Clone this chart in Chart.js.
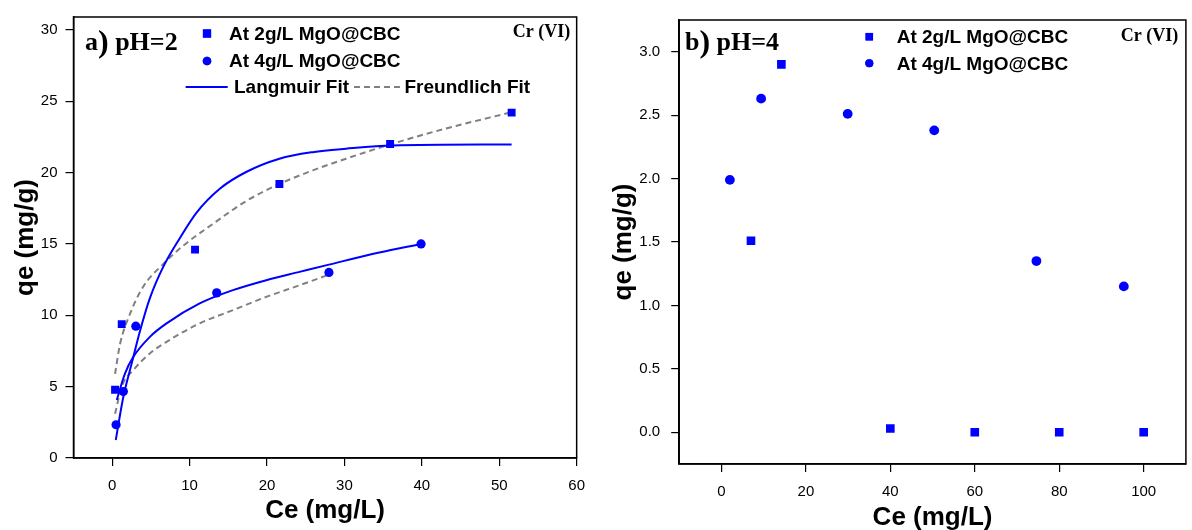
<!DOCTYPE html>
<html><head><meta charset="utf-8">
<script src="https://cdn.jsdelivr.net/npm/chart.js@4.4.1/dist/chart.umd.min.js"></script>
<style>
html,body{margin:0;padding:0;background:#fff;overflow:hidden;}
#wrap{position:relative;width:1192px;height:530px;background:#fff;}
.panel{position:absolute;top:0;width:596px;height:530px;}
#pa{left:0}
#pb{left:596px}
</style></head><body>
<div id="wrap"><div class="panel" id="pa"><canvas id="ca" width="596" height="530"></canvas></div><div class="panel" id="pb"><canvas id="cb" width="596" height="530"></canvas></div></div>
<script>
// ---------- data: panel a (pH=2) ----------
const seriesNames = ['At 2g/L MgO@CBC', 'At 4g/L MgO@CBC'];
const fitNames = ['Langmuir Fit', 'Freundlich Fit'];
const aSq2x = [0.37, 1.23, 10.7, 21.6, 35.9, 51.6];
const aSq2y = [4.78, 9.38, 14.6, 19.2, 22.0, 24.2];
const aCi4x = [0.5, 1.44, 3.05, 13.5, 28.0, 39.9];
const aCi4y = [2.33, 4.66, 9.24, 11.57, 13.0, 15.0];
const langA2x = [0.46, 1.44, 2.52, 3.59, 4.87, 6.59, 8.73, 10.9, 13.9, 17.3, 21.6, 25.9, 30.2, 36.2, 51.6];
const langA2y = [1.26, 4.29, 6.63, 8.9, 11.2, 13.39, 15.4, 17.2, 18.87, 20.04, 20.97, 21.43, 21.67, 21.9, 21.97];
const langA4x = [0.59, 1.66, 2.73, 4.87, 7.02, 11.3, 15.6, 19.9, 24.2, 28.0, 34.5, 39.9];
const langA4y = [4.06, 5.93, 7.09, 8.49, 9.43, 10.83, 11.76, 12.46, 13.04, 13.55, 14.4, 15.0];
const freA2x = [0.37, 1.02, 2.3, 4.0, 6.6, 9.0, 13.0, 17.3, 21.6, 25.9, 30.2, 36.2, 43.0, 51.6];
const freA2y = [5.9, 8.0, 10.1, 12.0, 13.6, 14.8, 16.4, 18.0, 19.2, 20.15, 20.97, 22.02, 23.07, 24.23];
const freA4x = [0.37, 1.23, 2.73, 4.87, 7.02, 11.3, 15.6, 19.9, 24.2, 28.0];
const freA4y = [3.1, 5.0, 6.16, 7.33, 8.14, 9.43, 10.36, 11.29, 12.1, 12.85];
const xTicksA = [0, 10, 20, 30, 40, 50, 60];
const yTicksA = [0, 5, 10, 15, 20, 25, 30];

// ---------- data: panel b (pH=4) ----------
const bSq2x = [7.0, 14.2, 40, 60, 80, 100];
const bSq2y = [1.51, 2.90, 0.03, 0.0, 0.0, 0.0];
const bCi4x = [2.0, 9.4, 29.9, 50.4, 74.6, 95.3];
const bCi4y = [1.99, 2.63, 2.51, 2.38, 1.35, 1.15];
const xTicksB = [0, 20, 40, 60, 80, 100];
const yTicksB = [0, 0.5, 1.0, 1.5, 2.0, 2.5, 3.0];

const zip = (xs, ys) => xs.map((x, i) => ({x: x, y: ys[i]}));
const BLUE = '#0000ff', GRAY = '#808080';
const SANS = 'Liberation Sans, Arial, sans-serif';
const SERIF = 'Liberation Serif, Times New Roman, serif';

const framePlugin = {
  id: 'frame',
  afterDraw(chart) {
    const {ctx, chartArea: a} = chart;
    ctx.save();
    ctx.strokeStyle = '#000'; ctx.lineWidth = 1.5;
    ctx.strokeRect(a.left, a.top, a.right - a.left, a.bottom - a.top);
    ctx.restore();
  }
};

const textPlugin = {
  id: 'texts',
  afterDraw(chart, args, o) {
    const ctx = chart.ctx;
    ctx.save();
    ctx.fillStyle = '#000';
    ctx.textBaseline = 'alphabetic';
    let x = o.label.x;
    o.label.parts.forEach(p => {
      ctx.font = 'bold ' + p[1] + 'px ' + SERIF;
      ctx.fillText(p[0], x, o.label.y + (p[2] || 0));
      x += ctx.measureText(p[0]).width;
    });
    ctx.font = 'bold ' + o.cr.size + 'px ' + SERIF;
    ctx.fillText(o.cr.text, o.cr.x, o.cr.y);
    ctx.font = 'bold ' + o.legendFont + 'px ' + SANS;
    ctx.textBaseline = 'middle';
    o.legend.forEach(it => {
      const ds = chart.data.datasets[it.ds];
      if (it.kind === 'point') {
        ctx.fillStyle = ds.backgroundColor;
        Chart.helpers.drawPoint(ctx, {pointStyle: ds.pointStyle, radius: it.r, rotation: 0, borderWidth: 0}, it.mx, it.my);
        ctx.fill();
      } else {
        ctx.strokeStyle = ds.borderColor;
        ctx.lineWidth = ds.borderWidth;
        ctx.setLineDash(ds.borderDash || []);
        ctx.beginPath(); ctx.moveTo(it.x1, it.my); ctx.lineTo(it.x2, it.my); ctx.stroke();
        ctx.setLineDash([]);
      }
      ctx.fillStyle = '#000';
      ctx.fillText(ds.label, it.tx, it.my + 1);
    });
    ctx.restore();
  }
};

function axis(opts) {
  return {
    type: 'linear', position: opts.pos, min: opts.min, max: opts.max,
    afterBuildTicks: s => { s.ticks = opts.ticks.map(v => ({value: v})); },
    afterFit: s => { if (opts.pos === 'bottom') s.height = opts.size; else s.width = opts.size; },
    ticks: {font: {family: SANS, size: 15}, color: '#000', padding: opts.tpad, maxRotation: 0, autoSkip: false,
            callback: opts.fmt},
    grid: {drawOnChartArea: false, drawTicks: true, tickLength: 8, color: '#000', lineWidth: 1.2},
    border: {display: true, color: '#000', width: 1.5},
    title: {display: true, text: opts.title, color: '#000',
            font: {family: SANS, size: 26, weight: 'bold', lineHeight: opts.lh || 1.2}, padding: opts.titlePad}
  };
}

const common = {
  responsive: false, animation: false, devicePixelRatio: 1,
  plugins: {legend: {display: false}, tooltip: {enabled: false}},
};

// ---------- panel a ----------
new Chart(document.getElementById('ca'), {
  type: 'scatter',
  data: {datasets: [
    {label: seriesNames[0], data: zip(aSq2x, aSq2y), pointStyle: 'rect', pointRadius: 5.6, backgroundColor: BLUE, borderWidth: 0, order: 0},
    {label: seriesNames[1], data: zip(aCi4x, aCi4y), pointStyle: 'circle', pointRadius: 4.6, backgroundColor: BLUE, borderWidth: 0, order: 0},
    {label: fitNames[0], data: zip(langA2x, langA2y), showLine: true, pointRadius: 0, borderColor: BLUE, borderWidth: 2, cubicInterpolationMode: 'monotone', order: 2},
    {label: fitNames[0], data: zip(langA4x, langA4y), showLine: true, pointRadius: 0, borderColor: BLUE, borderWidth: 2, cubicInterpolationMode: 'monotone', order: 2},
    {label: fitNames[1], data: zip(freA2x, freA2y), showLine: true, pointRadius: 0, borderColor: GRAY, borderWidth: 2, borderDash: [6, 4], cubicInterpolationMode: 'monotone', order: 3},
    {label: fitNames[1], data: zip(freA4x, freA4y), showLine: true, pointRadius: 0, borderColor: GRAY, borderWidth: 2, borderDash: [6, 4], cubicInterpolationMode: 'monotone', order: 3}
  ]},
  options: Object.assign({}, common, {
    layout: {padding: {left: 0, right: 17.4, top: 17, bottom: 0}},
    scales: {
      x: axis({pos: 'bottom', min: -5, max: 60, ticks: xTicksA, size: 72, tpad: 11, title: 'Ce (mg/L)', titlePad: {top: 0, bottom: 4}, fmt: v => String(v)}),
      y: axis({pos: 'left', min: 0, max: 30.9, ticks: yTicksA, size: 73.5, tpad: 8, title: 'qe (mg/g)', titlePad: {top: 10.4, bottom: 0}, fmt: v => String(v)})
    },
    plugins: Object.assign({}, common.plugins, {
      texts: {
        label: {x: 85, y: 50, parts: [['a', 26], [')', 32, 2], [' pH=2', 26]]},
        cr: {text: 'Cr (VI)', x: 512.8, y: 37, size: 18},
        legendFont: 19,
        legend: [
          {kind: 'point', ds: 0, mx: 207, my: 33.5, r: 5.8, tx: 229},
          {kind: 'point', ds: 1, mx: 207, my: 61, r: 4.3, tx: 229},
          {kind: 'line', ds: 2, x1: 185.6, x2: 227.7, my: 87, tx: 234},
          {kind: 'line', ds: 4, x1: 354, x2: 402, my: 87, tx: 404.5}
        ]
      }
    })
  }),
  plugins: [framePlugin, textPlugin]
});

// ---------- panel b ----------
new Chart(document.getElementById('cb'), {
  type: 'scatter',
  data: {datasets: [
    {label: seriesNames[0], data: zip(bSq2x, bSq2y), pointStyle: 'rect', pointRadius: 6.1, backgroundColor: BLUE, borderWidth: 0},
    {label: seriesNames[1], data: zip(bCi4x, bCi4y), pointStyle: 'circle', pointRadius: 4.9, backgroundColor: BLUE, borderWidth: 0}
  ]},
  options: Object.assign({}, common, {
    layout: {padding: {left: 0, right: 3.3, top: 17, bottom: 0}},
    scales: {
      x: axis({pos: 'bottom', min: -10, max: 110, ticks: xTicksB, size: 66, tpad: 11, title: 'Ce (mg/L)', lh: 0.9, titlePad: {top: 0, bottom: 0}, fmt: v => String(v)}),
      y: axis({pos: 'left', min: -0.25, max: 3.25, ticks: yTicksB, size: 83.2, tpad: 11, title: 'qe (mg/g)', titlePad: {top: 12.4, bottom: 0}, fmt: v => Number(v).toFixed(1)})
    },
    plugins: Object.assign({}, common.plugins, {
      texts: {
        label: {x: 89, y: 50, parts: [['b', 26], [')', 32, 2], [' pH=4', 26]]},
        cr: {text: 'Cr (VI)', x: 524.8, y: 41, size: 18},
        legendFont: 19,
        legend: [
          {kind: 'point', ds: 0, mx: 273.3, my: 36.7, r: 5.3, tx: 300.7},
          {kind: 'point', ds: 1, mx: 273.3, my: 63.3, r: 4.0, tx: 300.7}
        ]
      }
    })
  }),
  plugins: [framePlugin, textPlugin]
});
</script>
</body></html>
